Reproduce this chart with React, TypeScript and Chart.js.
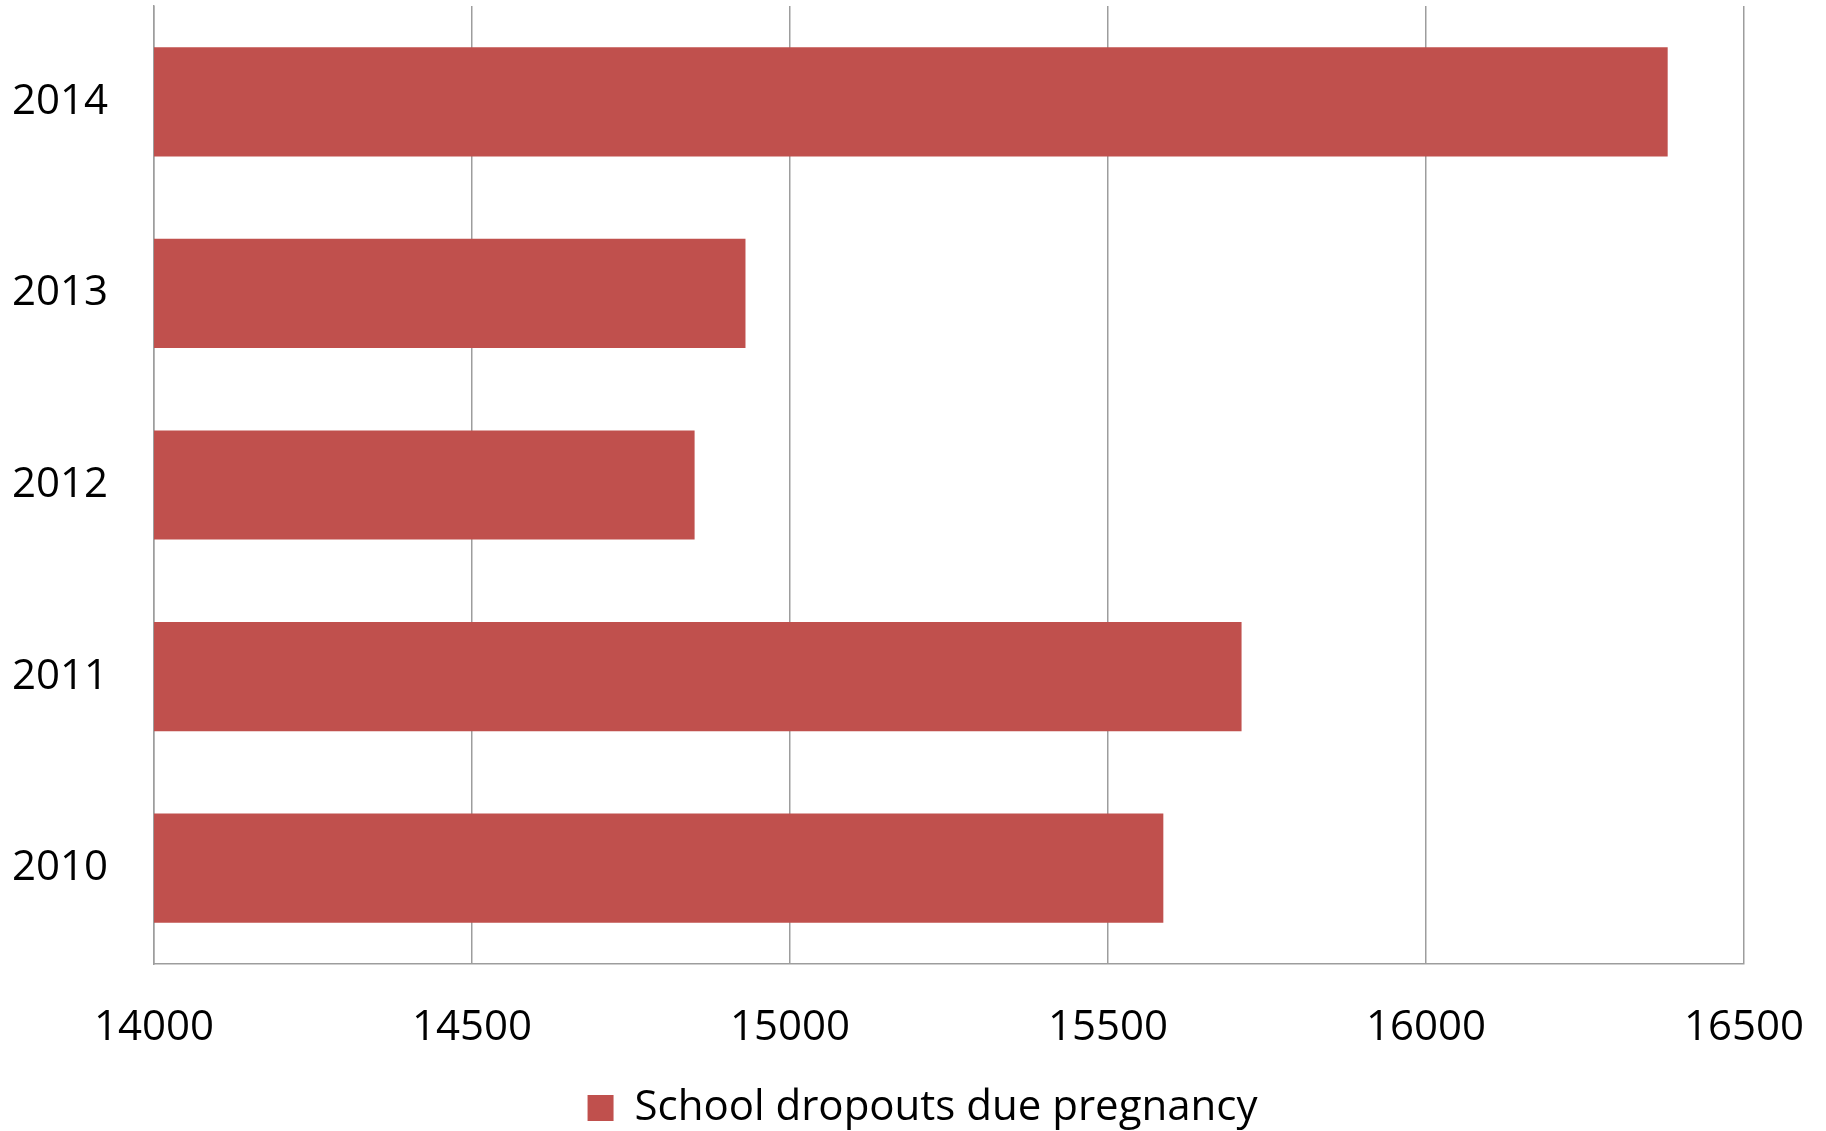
import React, { useEffect, useRef } from "react";
import { Chart, registerables } from "chart.js";

Chart.register(...registerables);

const categories = ["2014", "2013", "2012", "2011", "2010"];
const dropouts = [16380, 14930, 14850, 15710, 15587];
const xMin = 14000;
const xMax = 16500;
const xStep = 500;
const seriesLabel = "School dropouts due pregnancy";

const FONT = "'Open Sans', 'Noto Sans', sans-serif";
const BAR_COLOR = "#C0504D";
const GRID_COLOR = "#9d9d9d";
const LEGEND_LEFT_INSET = 96;

const legendShift = {
  id: "legendShift",
  afterLayout(chart: any) {
    const lg = chart.legend;
    if (lg) lg.left += LEGEND_LEFT_INSET;
  },
};

export default function App() {
  const canvasRef = useRef<HTMLCanvasElement | null>(null);

  useEffect(() => {
    document.body.style.margin = "0";
    const canvas = canvasRef.current;
    if (!canvas) return;
    const chart = new Chart(canvas, {
      type: "bar",
      data: {
        labels: categories,
        datasets: [
          {
            label: seriesLabel,
            data: dropouts,
            backgroundColor: BAR_COLOR,
            borderWidth: 0,
            barPercentage: 0.57,
            categoryPercentage: 1,
          },
        ],
      },
      plugins: [legendShift],
      options: {
        indexAxis: "y",
        responsive: false,
        animation: false,
        devicePixelRatio: 1,
        layout: { padding: { top: 6, left: 5, right: 82, bottom: -8 } },
        plugins: {
          tooltip: { enabled: false },
          legend: {
            position: "bottom",
            labels: {
              boxWidth: 26,
              boxHeight: 26,
              padding: 5,
              color: "#000",
              font: { family: FONT, size: 42 },
            },
          },
        },
        scales: {
          x: {
            min: xMin,
            max: xMax,
            grid: {
              color: GRID_COLOR,
              lineWidth: 1.5,
              drawTicks: false,
            },
            border: { color: GRID_COLOR, width: 1.5 },
            ticks: {
              stepSize: xStep,
              padding: 39,
              maxRotation: 0,
              color: "#000",
              font: { family: FONT, size: 42 },
              callback: (v: any) => String(v),
            },
            afterFit: (s: any) => {
              s.height = 118;
              s.paddingLeft = 0;
              s.paddingRight = 0;
            },
          },
          y: {
            grid: { display: false, drawTicks: false },
            border: { color: GRID_COLOR, width: 1.5 },
            ticks: {
              padding: 46,
              color: "#000",
              font: { family: FONT, size: 42 },
            },
            afterFit: (s: any) => {
              s.width = 149;
              s.paddingTop = 0;
              s.paddingBottom = 0;
            },
          },
        },
      },
    });
    return () => chart.destroy();
  }, []);

  return (
    <div style={{ width: 1826, height: 1131, background: "#fff", overflow: "hidden" }}>
      <canvas ref={canvasRef} width={1826} height={1131} style={{ display: "block" }} />
    </div>
  );
}
